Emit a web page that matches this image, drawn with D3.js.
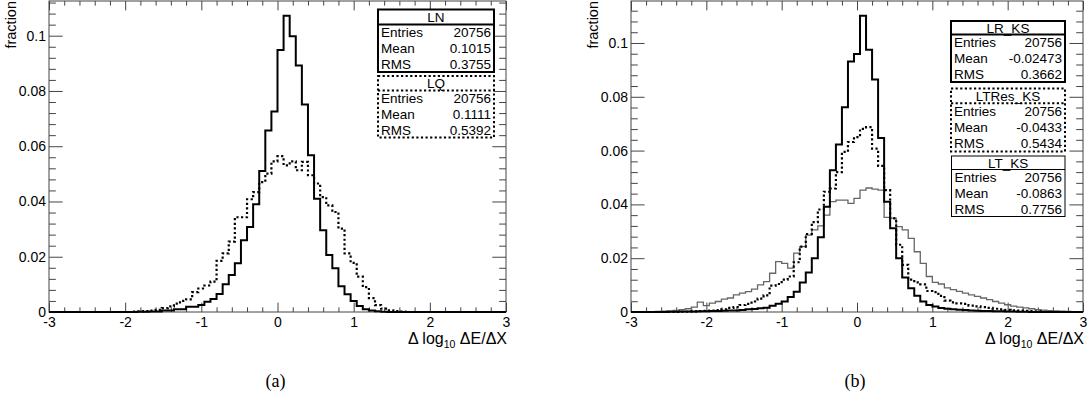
<!DOCTYPE html>
<html><head><meta charset="utf-8">
<script src="https://cdn.jsdelivr.net/npm/d3@7"></script>
<style>
body{margin:0;background:#fff;}
</style></head><body>
<svg id="chart" width="1089" height="404" font-family='"Liberation Sans",Arial,Helvetica,sans-serif'></svg>
<script>
// ---- data: normalised histograms (fraction per bin), bin width 0.08 ----
const binWidth = 0.08;

// panel (a)
const lnStart = -1.84;
const lnValues = [0.0001,0.0001,0.0002,0.0002,0.0005,0.0005,0.0010,0.0010,0.0019,0.0019,
  0.0025,0.0037,0.0047,0.0065,0.0100,0.0134,0.0176,0.0260,0.0308,0.0390,
  0.0510,0.0657,0.0726,0.0948,0.1072,0.0998,0.0892,0.0751,0.0567,0.0410,
  0.0296,0.0206,0.0158,0.0093,0.0064,0.0040,0.0022,0.0010,0.0005,0.0003,0.0001];
const lqStart = -1.92;
const lqValues = [0.0001,0.0002,0.0003,0.0005,0.0008,0.0014,0.0020,0.0030,0.0040,0.0046,
  0.0072,0.0085,0.0096,0.0110,0.0185,0.0212,0.0255,0.0343,0.0343,0.0408,
  0.0434,0.0470,0.0501,0.0545,0.0564,0.0531,0.0545,0.0513,0.0543,0.0495,
  0.0465,0.0416,0.0386,0.0362,0.0302,0.0212,0.0178,0.0128,0.0090,0.0050,
  0.0025,0.0012,0.0006,0.0003,0.0001];

// panel (b)
const lrStart = -2.52;
const lrValues = [0.0001,0.0001,0.0002,0.0002,0.0002,0.0003,0.0003,0.0004,0.0004,0.0005,
  0.0006,0.0006,0.0007,0.0010,0.0011,0.0014,0.0016,0.0023,0.0031,0.0039,
  0.0056,0.0075,0.0110,0.0147,0.0200,0.0278,0.0391,0.0527,0.0623,0.0761,
  0.0931,0.0959,0.1101,0.0975,0.0864,0.0647,0.0410,0.0311,0.0200,0.0128,
  0.0088,0.0060,0.0039,0.0026,0.0020,0.0015,0.0012,0.0010,0.0008,0.0007,
  0.0006,0.0005,0.0004,0.0004,0.0003,0.0003,0.0002,0.0002,0.0001,0.0001];
const ltresStart = -2.36;
const ltresValues = [0.0001,0.0001,0.0002,0.0003,0.0004,0.0005,0.0007,0.0010,0.0015,0.0018,
  0.0026,0.0030,0.0039,0.0050,0.0062,0.0098,0.0104,0.0120,0.0132,0.0185,
  0.0243,0.0290,0.0334,0.0381,0.0447,0.0459,0.0520,0.0595,0.0632,0.0650,
  0.0681,0.0687,0.0607,0.0543,0.0453,0.0348,0.0250,0.0175,0.0120,0.0110,
  0.0103,0.0078,0.0074,0.0060,0.0042,0.0036,0.0032,0.0030,0.0024,0.0021,
  0.0018,0.0015,0.0012,0.0010,0.0008,0.0006,0.0005,0.0004,0.0003,0.0002,0.0001];
const ltStart = -2.76;
const ltValues = [0.0001,0.0002,0.0003,0.0004,0.0006,0.0009,0.0012,0.0018,0.0037,0.0024,
  0.0033,0.0039,0.0048,0.0052,0.0064,0.0070,0.0076,0.0085,0.0101,0.0113,
  0.0144,0.0187,0.0181,0.0163,0.0219,0.0243,0.0286,0.0305,0.0320,0.0360,
  0.0410,0.0416,0.0416,0.0404,0.0422,0.0453,0.0461,0.0457,0.0453,0.0352,
  0.0349,0.0317,0.0305,0.0274,0.0224,0.0181,0.0132,0.0110,0.0104,0.0090,
  0.0083,0.0077,0.0070,0.0064,0.0058,0.0052,0.0046,0.0039,0.0033,0.0027,
  0.0022,0.0018,0.0015,0.0012,0.0009,0.0007,0.0005,0.0004,0.0003,0.0002,0.0001];

// axes
const xTicks = [-3,-2,-1,0,1,2,3];
const yTicks = [0,0.02,0.04,0.06,0.08,0.1];
const xTitleMain = "\u0394 log";
const xTitleSub = "10";
const xTitleTail = " \u0394E/\u0394X";
const yTitle = "fraction";

// statistics boxes
const statsA = [
  {title:"LN", entries:"20756", mean:"0.1015", rms:"0.3755"},
  {title:"LQ", entries:"20756", mean:"0.1111", rms:"0.5392"}
];
const statsB = [
  {title:"LR_KS", entries:"20756", mean:"-0.02473", rms:"0.3662"},
  {title:"LTRes_KS", entries:"20756", mean:"-0.0433", rms:"0.5434"},
  {title:"LT_KS", entries:"20756", mean:"-0.0863", rms:"0.7756"}
];

// ---- drawing ----
const svg = d3.select("#chart");
const frameColor = "#444";
const sansFont = '"Liberation Sans",Arial,Helvetica,sans-serif';
const serifFont = '"Liberation Serif","DejaVu Serif",serif';

function histPoints(start, values, domain) {
  // step outline over the whole axis range, empty bins at zero
  const pts = [];
  const n0 = Math.round((start - domain[0]) / binWidth);
  const nTot = Math.round((domain[1] - domain[0]) / binWidth);
  for (let i = 0; i < nTot; i++) {
    const lo = domain[0] + i * binWidth;
    const hi = lo + binWidth;
    const k = i - n0;
    const v = (k >= 0 && k < values.length) ? values[k] : 0;
    pts.push([lo, v], [hi, v]);
  }
  return pts;
}

function panel(opt) {
  const g = svg.append("g");
  const x = d3.scaleLinear().domain([-3, 3]).range([opt.left, opt.right]);
  const yMax = 1.05 * d3.max(opt.series, s => d3.max(s.values));
  const y = d3.scaleLinear().domain([0, yMax]).range([opt.bottom, opt.top]);

  const clipId = "clip" + opt.id;
  g.append("clipPath").attr("id", clipId).append("rect")
    .attr("x", opt.left).attr("y", opt.top - 2)
    .attr("width", opt.right - opt.left).attr("height", opt.bottom - opt.top + 4);

  const xMinor = d3.range(-3, 3.0001, 0.2).filter(v => Math.abs(v - Math.round(v)) > 1e-6);
  const yMinor = d3.range(0, yMax, 0.004).filter(v => Math.abs(v / 0.02 - Math.round(v / 0.02)) > 1e-6);
  const xLong = (opt.bottom - opt.top) * 0.03;
  const yLong = (opt.right - opt.left) * 0.03;

  const styleAxis = sel => {
    sel.select(".domain").remove();
    sel.selectAll("line").attr("stroke", frameColor);
    sel.attr("font-size", null).attr("font-family", null);
    sel.selectAll("text").style("font-size", "14px").style("fill", "#000")
      .style("font-family", sansFont);
  };

  g.append("g").attr("transform", `translate(0,${opt.bottom})`)
    .call(d3.axisBottom(x).tickValues(xTicks).tickSize(-xLong).tickPadding(5).tickFormat(d => String(d)))
    .call(styleAxis);
  g.append("g").attr("transform", `translate(0,${opt.bottom})`)
    .call(d3.axisBottom(x).tickValues(xMinor).tickSize(-xLong / 2).tickFormat(""))
    .call(styleAxis);
  g.append("g").attr("transform", `translate(0,${opt.top})`)
    .call(d3.axisTop(x).tickValues(xTicks).tickSize(-xLong).tickFormat(""))
    .call(styleAxis);
  g.append("g").attr("transform", `translate(0,${opt.top})`)
    .call(d3.axisTop(x).tickValues(xMinor).tickSize(-xLong / 2).tickFormat(""))
    .call(styleAxis);

  g.append("g").attr("transform", `translate(${opt.left},0)`)
    .call(d3.axisLeft(y).tickValues(yTicks).tickSize(-yLong).tickPadding(3).tickFormat(d => String(d)))
    .call(styleAxis);
  g.append("g").attr("transform", `translate(${opt.left},0)`)
    .call(d3.axisLeft(y).tickValues(yMinor).tickSize(-yLong / 2).tickFormat(""))
    .call(styleAxis);
  g.append("g").attr("transform", `translate(${opt.right},0)`)
    .call(d3.axisRight(y).tickValues(yTicks).tickSize(-yLong).tickFormat(""))
    .call(styleAxis);
  g.append("g").attr("transform", `translate(${opt.right},0)`)
    .call(d3.axisRight(y).tickValues(yMinor).tickSize(-yLong / 2).tickFormat(""))
    .call(styleAxis);

  // frame
  g.append("rect").attr("x", opt.left).attr("y", opt.top)
    .attr("width", opt.right - opt.left).attr("height", opt.bottom - opt.top)
    .attr("fill", "none").attr("stroke", frameColor).attr("stroke-width", 1);

  // histograms
  const line = d3.line().x(d => x(d[0])).y(d => y(d[1]));
  opt.series.forEach(s => {
    g.append("path")
      .attr("clip-path", `url(#${clipId})`)
      .attr("d", line(histPoints(s.start, s.values, [s.lo, s.hi])))
      .attr("fill", "none").attr("stroke", s.color).attr("stroke-width", s.width)
      .attr("stroke-dasharray", s.dash || null)
      .attr("stroke-linejoin", "miter");
  });

  // axis titles
  const xt = g.append("text").attr("x", opt.right + 1).attr("y", opt.bottom + 32)
    .attr("text-anchor", "end").attr("font-size", 16);
  xt.append("tspan").text(xTitleMain);
  xt.append("tspan").attr("font-size", 10.5).attr("dy", 4).text(xTitleSub);
  xt.append("tspan").attr("dy", -4).text(xTitleTail);

  g.append("text")
    .attr("transform", `translate(${opt.left - 33},${opt.top})rotate(-90)`)
    .attr("text-anchor", "end").attr("font-size", 14.5).text(yTitle);

  // statistics boxes
  opt.boxes.forEach((b, i) => {
    const st = opt.stats[i];
    const bg = g.append("g");
    bg.append("rect").attr("x", b.x).attr("y", b.y).attr("width", b.w).attr("height", b.h)
      .attr("fill", "#fff").attr("stroke", "#000").attr("stroke-width", b.sw)
      .attr("stroke-dasharray", b.dash || null);
    bg.append("text").attr("x", b.x + b.w / 2).attr("y", b.y + b.hh / 2 + 4.9)
      .attr("text-anchor", "middle").attr("font-size", 13.5).text(st.title);
    bg.append("line").attr("x1", b.x).attr("x2", b.x + b.w)
      .attr("y1", b.y + b.hh).attr("y2", b.y + b.hh)
      .attr("stroke", "#000").attr("stroke-width", b.sw)
      .attr("stroke-dasharray", b.dash || null);
    const rowH = (b.h - b.hh) / 3;
    [["Entries", st.entries], ["Mean", st.mean], ["RMS", st.rms]].forEach((r, j) => {
      const cy = b.y + b.hh + rowH * (j + 0.5) + 4.9;
      bg.append("text").attr("x", b.x + 3).attr("y", cy).attr("font-size", 13.5).text(r[0]);
      bg.append("text").attr("x", b.x + b.w - 3).attr("y", cy)
        .attr("text-anchor", "end").attr("font-size", 13.5).text(r[1]);
    });
  });

  // sub-caption
  svg.append("text").attr("x", (opt.left + opt.right) / 2 - 2).attr("y", 387)
    .attr("text-anchor", "middle").style("font-size", "18px")
    .style("font-family", serifFont).text(opt.caption);
}

panel({
  id: "a", left: 49, right: 506, top: 1, bottom: 312, caption: "(a)",
  series: [
    {start: lqStart, values: lqValues, lo: -3.04, hi: 3.04, color: "#000", width: 2.2, dash: "2.2,2.4"},
    {start: lnStart, values: lnValues, lo: -3.04, hi: 3.04, color: "#000", width: 2}
  ],
  stats: statsA,
  boxes: [
    {x: 378, y: 9.5, w: 116, h: 62.5, hh: 15, sw: 2},
    {x: 378, y: 76, w: 116, h: 61.5, hh: 14.5, sw: 2, dash: "2.2,2.4"}
  ]
});

panel({
  id: "b", left: 631, right: 1083, top: 1, bottom: 312, caption: "(b)",
  series: [
    {start: ltStart, values: ltValues, lo: -3, hi: 3, color: "#666", width: 1.3},
    {start: ltresStart, values: ltresValues, lo: -3, hi: 3, color: "#000", width: 2.2, dash: "2.2,2.4"},
    {start: lrStart, values: lrValues, lo: -3, hi: 3, color: "#000", width: 2}
  ],
  stats: statsB,
  boxes: [
    {x: 951, y: 21, w: 114, h: 61, hh: 13.5, sw: 2},
    {x: 951, y: 88.5, w: 114, h: 63, hh: 14.8, sw: 2, dash: "2.2,2.4"},
    {x: 951.5, y: 156, w: 113.5, h: 60.5, hh: 13.5, sw: 1}
  ]
});
</script>
</body></html>
